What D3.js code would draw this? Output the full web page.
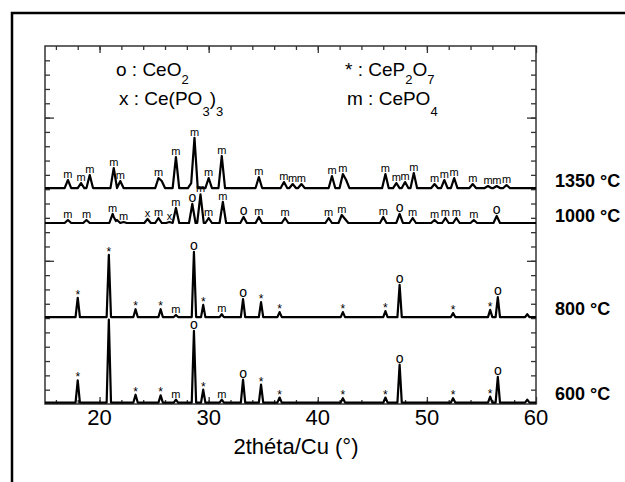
<!DOCTYPE html>
<html lang="en">
<head>
  <meta charset='utf-8'>
  <title>DRX</title>
  <script src="https://d3js.org/d3.v7.min.js"></script>
  <style>
    body { margin: 0; background: #fff; }
    svg { display: block; font-family: "Liberation Sans", Arial, sans-serif; }
  </style>
</head>
<body>
<script>
// pics : [2theta, intensite au-dessus de la ligne de base, etiquette]
var peaks600 = [
  [18.0, 155, "*"], [20.85, 580, ""], [23.3, 55, "*"], [25.6, 50, "*"], [27.0, 20, "m"],
  [28.65, 500, "o"], [29.5, 90, "*"], [31.2, 20, "m"], [33.15, 160, "o"], [34.8, 125, "*"],
  [36.5, 35, "*"], [42.3, 30, "*"], [46.2, 35, "*"], [47.5, 265, "o"], [52.4, 30, "*"],
  [55.8, 42, "*"], [56.5, 180, "o"], [59.2, 20, ""]
];
var peaks800 = [
  [18.0, 135, "*"], [20.85, 435, "*"], [23.3, 55, "*"], [25.6, 55, "*"], [27.0, 15, "m"],
  [28.65, 455, "o"], [29.5, 85, "*"], [31.2, 20, "m"], [33.15, 125, "o"], [34.8, 105, "*"],
  [36.5, 35, "*"], [42.3, 35, "*"], [46.2, 42, "*"], [47.5, 225, "o"], [52.4, 28, "*"],
  [55.8, 50, "*"], [56.5, 140, "o"], [59.2, 20, ""]
];
var peaks1000 = [
  [17.1, 21, "m"], [18.8, 21, "m"], [21.2, 63, "m"], [21.6, 21, ""], [22.2, 7, "m"],
  [24.4, 28, "x"], [25.4, 35, "m"], [26.4, 7, "x"], [27.0, 105, "m"], [28.5, 133, "o"],
  [29.25, 200, "m"], [30.0, 35, "m"], [31.3, 147, "m"], [33.2, 42, "o"], [34.6, 42, "m"],
  [37.0, 35, "m"], [41.0, 35, "m"], [42.2, 56, "m"], [42.5, 28, ""], [46.0, 42, "m"],
  [47.5, 63, "o"], [48.7, 35, "m"], [50.7, 21, "m"], [51.7, 35, "m"], [52.7, 35, "m"],
  [54.3, 21, "m"], [56.4, 49, "o"]
];
var peaks1350 = [
  [17.1, 56, "m"], [18.3, 35, "m"], [19.1, 91, "m"], [21.3, 140, "m"], [21.9, 49, "m"],
  [25.4, 70, "m"], [25.7, 49, ""], [27.0, 217, "m"], [28.4, 35, ""], [28.7, 350, "m"],
  [30.0, 70, "m"], [31.2, 224, "m"], [34.6, 77, "m"], [36.9, 42, "m"], [37.7, 28, "m"],
  [38.5, 28, "m"], [41.3, 84, "m"], [42.3, 98, "m"], [42.6, 56, ""], [46.2, 98, "m"],
  [47.2, 35, "m"], [48.0, 42, "m"], [48.8, 105, "m"], [50.7, 28, "m"], [51.6, 56, "m"],
  [52.5, 70, "m"], [54.2, 28, "m"], [55.6, 14, "m"], [56.4, 14, "m"], [57.3, 21, "m"]
];
var temps = ["600 °C", "800 °C", "1000 °C", "1350 °C"];
var offsets = [10, 607, 1264, 1508];
var xTicks = [20, 30, 40, 50, 60];
// legende : morceaux [texte, indice ?]
var legend = [
  [["o : CeO", 0], ["2", 1]],
  [["x : Ce(PO", 0], ["3", 1], [")", 0], ["3", 1]],
  [["* : CeP", 0], ["2", 1], ["O", 0], ["7", 1]],
  [["m : CePO", 0], ["4", 1]]
];

var W = 625, H = 482;
var svg = d3.select("body").append("svg").attr("width", W).attr("height", H);

// cadre exterieur
svg.append("rect").attr("x", 12).attr("y", 13).attr("width", 700).attr("height", 600)
  .attr("fill", "none").attr("stroke", "#000").attr("stroke-width", 2.5);

var x = d3.scaleLinear().domain([15, 60]).range([45, 536]);
var y = d3.scaleLinear().domain([0, 2500]).range([404, 46]);

var minorX = d3.range(16, 60, 2);
var minorY = d3.range(100, 2500, 100);

function ax(gen, tx, ty, vals, size) {
  var g = svg.append("g").attr("transform", "translate(" + tx + "," + ty + ")")
    .call(gen.tickValues(vals).tickSize(size).tickFormat(""));
  g.select(".domain").remove();
  g.selectAll("line").attr("stroke", "#333").attr("stroke-width", 1.3);
  return g;
}
ax(d3.axisTop(x), 0, 46, minorX, -4);
ax(d3.axisTop(x), 0, 46, xTicks, -7);
ax(d3.axisBottom(x), 0, 404, minorX, -4);
ax(d3.axisBottom(x), 0, 404, xTicks, -7);
ax(d3.axisLeft(y), 45, 0, minorY, -5);
ax(d3.axisLeft(y), 45, 0, [1000, 2000], -9);
ax(d3.axisRight(y), 536, 0, minorY, -5);
ax(d3.axisRight(y), 536, 0, [1000, 2000], -9);

svg.append("rect").attr("x", 45).attr("y", 46).attr("width", 491).attr("height", 358)
  .attr("fill", "none").attr("stroke", "#333").attr("stroke-width", 1.5);

// etiquettes de l'axe x
svg.append("g").selectAll("text").data(xTicks).join("text")
  .attr("x", function(d) { return x(d); }).attr("y", 425)
  .attr("text-anchor", "middle").attr("font-size", 22).text(function(d) { return d; });
svg.append("text").attr("x", 296).attr("y", 454).attr("text-anchor", "middle")
  .attr("font-size", 22).text("2théta/Cu (°)");

// diffractogrammes
function buildTrace(peaks, base, w) {
  var xs = [15, 60];
  peaks.forEach(function(p) { xs.push(p[0] - w, p[0], p[0] + w); });
  xs = Array.from(new Set(xs)).filter(function(v) { return v >= 15 && v <= 60; })
    .sort(function(a, b) { return a - b; });
  return xs.map(function(v) {
    var m = d3.max(peaks, function(p) { return Math.max(0, p[1] * (1 - Math.abs(v - p[0]) / w)); });
    return [v, base + m];
  });
}
var line = d3.line().x(function(d) { return x(d[0]); }).y(function(d) { return y(d[1]); });
var series = [peaks600, peaks800, peaks1000, peaks1350];
var widths = [0.2, 0.2, 0.3, 0.3];

series.forEach(function(peaks, i) {
  svg.append("path").datum(buildTrace(peaks, offsets[i], widths[i]))
    .attr("d", line).attr("fill", "none").attr("stroke", "#000")
    .attr("stroke-width", 2.2).attr("stroke-linejoin", "round");

  svg.append("g").selectAll("text").data(peaks.filter(function(p) { return p[2] !== ""; }))
    .join("text")
    .attr("x", function(p) { return x(p[0]); })
    .attr("y", function(p) { return y(offsets[i] + p[1]) + (p[2] === "*" ? 1 : -2); })
    .attr("text-anchor", "middle")
    .attr("font-size", function(p) { return p[2] === "o" ? 14 : (p[2] === "*" ? 12 : 11); })
    .text(function(p) { return p[2]; });
});

// temperatures
var tempY = [400, 315, 222, 187];
temps.forEach(function(t, i) {
  svg.append("text").attr("x", 555).attr("y", tempY[i]).attr("font-size", 18)
    .attr("font-weight", "bold").text(t);
});

// legende
var legPos = [[116, 76, 8], [119, 105, 11], [345, 76, 8], [347, 105, 11]];
legend.forEach(function(parts, i) {
  var t = svg.append("text").attr("x", legPos[i][0]).attr("y", legPos[i][1]).attr("font-size", 19);
  var down = false;
  parts.forEach(function(p) {
    var s = t.append("tspan").text(p[0]);
    if (p[1] && !down) { s.attr("dy", legPos[i][2]).attr("font-size", 13); down = true; }
    else if (p[1]) { s.attr("font-size", 13); }
    else if (down) { s.attr("dy", -legPos[i][2]); down = false; }
  });
});
</script>
</body>
</html>
